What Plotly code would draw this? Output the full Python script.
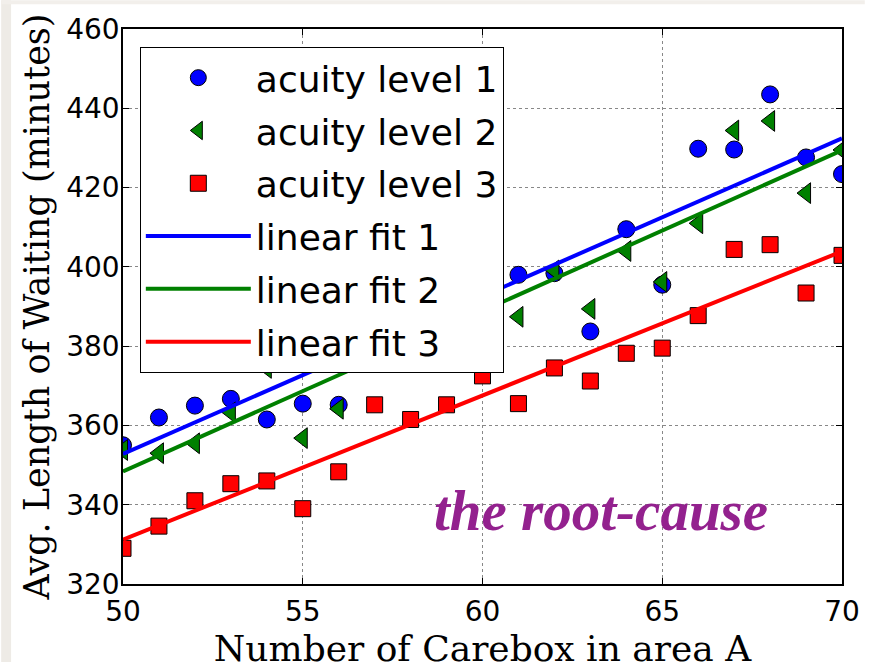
import plotly.graph_objects as go

x_vals = list(range(50, 71))
acuity1 = [355, 362, 365, 366.7, 361.5, 365.5, 365.2, 385, 392, 388, 395,
           398, 398.4, 383.7, 409.5, 395.5, 429.8, 429.6, 443.5, 427.6, 423.4]
acuity2 = [353.8, 353, 355.5, 363.3, 374.5, 356.8, 364.2, 383, 388, 386, 392,
           387.4, 399.1, 389.4, 404, 396.2, 411, 434.4, 436.8, 418.6, 429.5]
acuity3 = [329, 334.6, 341, 345.3, 346, 339, 348.3, 365.2, 361.5, 365.2, 372.5,
           365.5, 374.5, 371.2, 378.2, 379.5, 387.7, 404.4, 405.6, 393.4, 402.9]

fit_x = [50, 70]
fit1 = [352.8, 432.4]
fit2 = [348.4, 429.4]
fit3 = [331.2, 403.9]

x_ticks = [50, 55, 60, 65, 70]
y_ticks = [320, 340, 360, 380, 400, 420, 440, 460]

fig = go.Figure()
mk_line = dict(color="black", width=1)
fig.add_trace(go.Scatter(x=x_vals, y=acuity1, mode="markers", name="acuity level 1", legendgroup="g1",
                         marker=dict(symbol="circle", size=17, color="#0000ff", line=mk_line)))
fig.add_trace(go.Scatter(x=x_vals, y=acuity2, mode="markers", name="acuity level 2", legendgroup="g2",
                         marker=dict(symbol="triangle-left", size=18, color="#008000", line=mk_line)))
fig.add_trace(go.Scatter(x=x_vals, y=acuity3, mode="markers", name="acuity level 3", legendgroup="g3",
                         marker=dict(symbol="square", size=16, color="#ff0000", line=mk_line)))
fig.add_trace(go.Scatter(x=fit_x, y=fit1, mode="lines", name="linear fit 1", legendgroup="g4",
                         line=dict(color="#0000ff", width=4)))
fig.add_trace(go.Scatter(x=fit_x, y=fit2, mode="lines", name="linear fit 2", legendgroup="g5",
                         line=dict(color="#008000", width=4)))
fig.add_trace(go.Scatter(x=fit_x, y=fit3, mode="lines", name="linear fit 3", legendgroup="g6",
                         line=dict(color="#ff0000", width=4)))

fig.add_annotation(x=63.3, y=338.5, xref="x", yref="y", text="the root-cause",
                   showarrow=False,
                   font=dict(family="Liberation Serif", size=57, color="#93218e",
                             style="italic", weight="bold"))

# light beige page border on the left and top
W, H, L, R, T, B = 872, 670, 123, 23, 29, 79
pw, ph = W - L - R, H - T - B
def px_x(p):
    return (p - L) / pw
def px_y(p):
    return (H - B - p) / ph
fig.add_shape(type="rect", xref="paper", yref="paper", layer="below",
              x0=px_x(0), x1=px_x(10), y0=px_y(H), y1=px_y(0),
              fillcolor="#eeebe6", line=dict(width=0))
fig.add_shape(type="rect", xref="paper", yref="paper", layer="below",
              x0=px_x(0), x1=px_x(W), y0=px_y(4), y1=px_y(0),
              fillcolor="#f2efeb", line=dict(width=0))

axis_common = dict(showline=True, linecolor="black", linewidth=1.5, mirror="ticks",
                   ticks="inside", ticklen=6, tickcolor="black",
                   showgrid=True, gridcolor="#888888", griddash="dot", gridwidth=1,
                   zeroline=False,
                   tickfont=dict(family="DejaVu Sans", size=28, color="black"))

fig.update_layout(
    width=W, height=H,
    margin=dict(l=L, r=R, t=T, b=B),
    paper_bgcolor="white", plot_bgcolor="white",
    showlegend=True,
    legend=dict(x=0.0234, y=0.968, xanchor="left", yanchor="top",
                bgcolor="white", bordercolor="black", borderwidth=1,
                font=dict(family="DejaVu Sans", size=36, color="black"),
                itemwidth=105, tracegroupgap=3),
    xaxis=dict(range=[50, 70], tickvals=x_ticks, ticktext=[str(v) for v in x_ticks],
               ticklabelstandoff=2,
               title=dict(text="Number of Carebox in area A", standoff=4,
                          font=dict(family="DejaVu Serif", size=36, color="black")),
               **axis_common),
    yaxis=dict(range=[320, 460], tickvals=y_ticks, ticktext=[str(v) for v in y_ticks],
               ticklabelstandoff=-4,
               title=dict(text="Avg. Length of Waiting (minutes)", standoff=6,
                          font=dict(family="DejaVu Serif", size=35, color="black")),
               **axis_common),
)

fig.write_html("out.html")
